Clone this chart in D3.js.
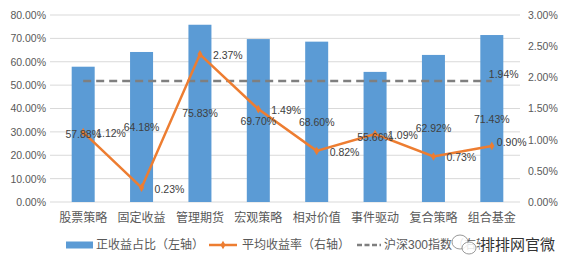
<!DOCTYPE html>
<html>
<head>
<meta charset="utf-8">
<script src="https://cdn.jsdelivr.net/npm/d3@7"></script>
<style>
  body { margin: 0; background: #fff; }
  text { font-family: "Liberation Sans", "Noto Sans CJK SC", sans-serif; }
</style>
</head>
<body>
<div id="chart"></div>
<script>
// Chart data
const categories = ["股票策略", "固定收益", "管理期货", "宏观策略", "相对价值", "事件驱动", "复合策略", "组合基金"];
const positiveShare = [57.88, 64.18, 75.83, 69.70, 68.60, 55.66, 62.92, 71.43];   // left axis, %
const avgReturn = [1.12, 0.23, 2.37, 1.49, 0.82, 1.09, 0.73, 0.90];              // right axis, %
const hs300 = [1.94, 1.94, 1.94, 1.94, 1.94, 1.94, 1.94, 1.94];                  // right axis, %
const leftTicks = [0, 10, 20, 30, 40, 50, 60, 70, 80];
const rightTicks = [0, 0.5, 1, 1.5, 2, 2.5, 3];
const legendLabels = ["正收益占比（左轴）", "平均收益率（右轴）", "沪深300指数（右轴）"];

const width = 567, height = 265;
const plot = {left: 50, right: 520, top: 15, bottom: 202};

const svg = d3.select("#chart")
              .append("svg")
              .attr("width", width)
              .attr("height", height);

svg.append("rect").attr("width", width).attr("height", height).attr("fill", "#fff");

// Scales
const xScale = d3.scaleBand()
                 .domain(categories)
                 .range([54, 521]);
const yLeft = d3.scaleLinear().domain([0, 80]).range([plot.bottom, plot.top]);
const yRight = d3.scaleLinear().domain([0, 3]).range([plot.bottom, plot.top]);
const cx = d => xScale(d) + xScale.bandwidth() / 2;

// Gridlines
svg.append("g")
   .selectAll("line")
   .data(leftTicks)
   .enter()
   .append("line")
   .attr("x1", plot.left)
   .attr("x2", plot.right)
   .attr("y1", d => yLeft(d))
   .attr("y2", d => yLeft(d))
   .attr("stroke", "#d9d9d9")
   .attr("stroke-width", 1);

// Left axis
const leftAxis = svg.append("g")
   .attr("transform", "translate(46,0)")
   .call(d3.axisLeft(yLeft).tickValues(leftTicks).tickSize(0).tickFormat(d => d.toFixed(2) + "%"));
leftAxis.select(".domain").remove();
leftAxis.selectAll("text").attr("fill", "#595959").attr("x", 0).style("font-size", "10.5px");

// Right axis
const rightAxis = svg.append("g")
   .attr("transform", "translate(528,0)")
   .call(d3.axisRight(yRight).tickValues(rightTicks).tickSize(0).tickFormat(d => d.toFixed(2) + "%"));
rightAxis.select(".domain").remove();
rightAxis.selectAll("text").attr("fill", "#595959").attr("x", 0).style("font-size", "10.5px");

// Category labels
svg.append("g")
   .selectAll("text")
   .data(categories)
   .enter()
   .append("text")
   .attr("x", d => cx(d))
   .attr("y", 218)
   .attr("text-anchor", "middle")
   .attr("dominant-baseline", "central")
   .attr("fill", "#595959")
   .style("font-size", "12px")
   .text(d => d);

// Bars
const barWidth = 23;
svg.append("g")
   .selectAll("rect")
   .data(positiveShare)
   .enter()
   .append("rect")
   .attr("x", (d, i) => cx(categories[i]) - barWidth / 2)
   .attr("y", d => yLeft(d))
   .attr("width", barWidth)
   .attr("height", d => plot.bottom - yLeft(d))
   .attr("fill", "#5b9bd5");

// HS300 dashed line
svg.append("path")
   .datum(hs300)
   .attr("d", d3.line().x((d, i) => cx(categories[i])).y(d => yRight(d)))
   .attr("fill", "none")
   .attr("stroke", "#7f7f7f")
   .attr("stroke-width", 2.5)
   .attr("stroke-dasharray", "8,5");

// Average return line
svg.append("path")
   .datum(avgReturn)
   .attr("d", d3.line().x((d, i) => cx(categories[i])).y(d => yRight(d)))
   .attr("fill", "none")
   .attr("stroke", "#ed7d31")
   .attr("stroke-width", 2.5);

svg.append("g")
   .selectAll("path")
   .data(avgReturn)
   .enter()
   .append("path")
   .attr("transform", (d, i) => "translate(" + cx(categories[i]) + "," + yRight(d) + ")")
   .attr("d", d3.symbol().type(d3.symbolDiamond).size(22))
   .attr("fill", "#ed7d31");

// Bar labels (centered in bar)
svg.append("g")
   .selectAll("text")
   .data(positiveShare)
   .enter()
   .append("text")
   .attr("x", (d, i) => cx(categories[i]))
   .attr("y", d => (yLeft(d) + plot.bottom) / 2)
   .attr("text-anchor", "middle")
   .attr("dominant-baseline", "central")
   .attr("fill", "#404040")
   .style("font-size", "10.5px")
   .text(d => d.toFixed(2) + "%");

// Line labels (right of point; the last one sits a bit higher, as in the original)
svg.append("g")
   .selectAll("text")
   .data(avgReturn)
   .enter()
   .append("text")
   .attr("x", (d, i) => cx(categories[i]) + (i === avgReturn.length - 1 ? 5 : 13))
   .attr("y", (d, i) => yRight(d) + (i === avgReturn.length - 1 ? -4 : 1))
   .attr("dominant-baseline", "central")
   .attr("fill", "#404040")
   .style("font-size", "10.5px")
   .text(d => d.toFixed(2) + "%");

// HS300 label at last point
svg.append("text")
   .attr("x", cx(categories[categories.length - 1]) - 3)
   .attr("y", yRight(hs300[hs300.length - 1]) - 7)
   .attr("dominant-baseline", "central")
   .attr("fill", "#404040")
   .style("font-size", "10.5px")
   .text(hs300[hs300.length - 1].toFixed(2) + "%");

// Legend
const legendY = 245;
const legend = svg.append("g").style("font-size", "12px");
legend.append("rect").attr("x", 66).attr("y", legendY - 3.5).attr("width", 27).attr("height", 7).attr("fill", "#5b9bd5");
legend.append("text").attr("x", 96).attr("y", legendY).attr("dominant-baseline", "central").attr("fill", "#595959").text(legendLabels[0]);
legend.append("line").attr("x1", 209).attr("x2", 237).attr("y1", legendY).attr("y2", legendY)
      .attr("stroke", "#ed7d31").attr("stroke-width", 2.5);
legend.append("path").attr("transform", "translate(223," + legendY + ")")
      .attr("d", d3.symbol().type(d3.symbolDiamond).size(22)).attr("fill", "#ed7d31");
legend.append("text").attr("x", 242).attr("y", legendY).attr("dominant-baseline", "central").attr("fill", "#595959").text(legendLabels[1]);
legend.append("line").attr("x1", 357).attr("x2", 381).attr("y1", legendY).attr("y2", legendY)
      .attr("stroke", "#7f7f7f").attr("stroke-width", 2.5).attr("stroke-dasharray", "5,2.5");
legend.append("text").attr("x", 384).attr("y", legendY).attr("dominant-baseline", "central").attr("fill", "#595959").text(legendLabels[2]);

// Watermark
const wm = svg.append("g");
wm.append("ellipse").attr("cx", 460).attr("cy", legendY - 3).attr("rx", 8).attr("ry", 7)
  .attr("fill", "rgba(255,255,255,0.85)").attr("stroke", "#999").attr("stroke-width", 1);
wm.append("ellipse").attr("cx", 469).attr("cy", legendY + 3).attr("rx", 7).attr("ry", 6)
  .attr("fill", "rgba(255,255,255,0.85)").attr("stroke", "#999").attr("stroke-width", 1);
wm.append("text").attr("x", 480).attr("y", legendY - 1).attr("dominant-baseline", "central")
  .attr("fill", "#333").attr("stroke", "#fff").attr("stroke-width", 2.5).attr("paint-order", "stroke")
  .style("font-size", "15px").text("排排网官微");
</script>
</body>
</html>
